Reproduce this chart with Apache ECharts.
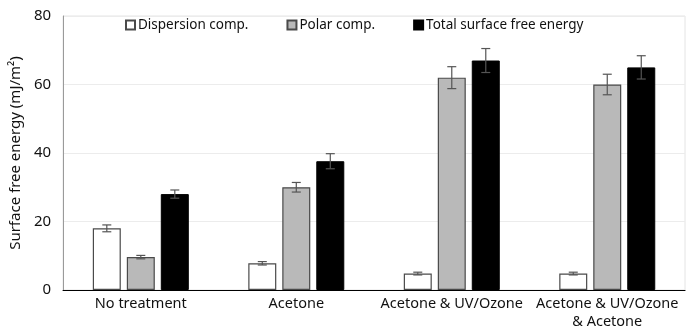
<!DOCTYPE html>
<html><head><meta charset="utf-8">
<script src="https://cdn.jsdelivr.net/npm/echarts@6/dist/echarts.min.js"></script>
<style>html,body{margin:0;padding:0;background:#fff}#c{width:688px;height:335px}</style>
</head><body><div id="c"></div>
<script>
const categories = ['No treatment', 'Acetone', 'Acetone & UV/Ozone', 'Acetone & UV/Ozone\n& Acetone'];
const seriesNames = ['Dispersion comp.', 'Polar comp.', 'Total surface free energy'];
const dispersion = [18, 7.8, 4.8, 4.8];
const dispersionErr = [1, 0.5, 0.4, 0.4];
const polar = [9.6, 30, 62, 60];
const polarErr = [0.5, 1.4, 3.2, 3];
const total = [28, 37.6, 67, 65];
const totalErr = [1.2, 2.2, 3.5, 3.4];
const yTicks = [0, 20, 40, 60, 80];

const FONT = '"Noto Sans", "Open Sans", sans-serif';
const barW = 28, gapPx = 6;
const styles = [
  {color: '#ffffff', borderColor: '#4a4a4a', borderWidth: 1.2},
  {color: '#b9b9b9', borderColor: '#4a4a4a', borderWidth: 1.2},
  {color: '#000000', borderColor: '#000000', borderWidth: 1}
];
const vals = [dispersion, polar, total];
const errs = [dispersionErr, polarErr, totalErr];

const series = [];
vals.forEach((v, i) => {
  series.push({
    name: seriesNames[i], type: 'bar', data: v, barWidth: barW,
    barGap: (gapPx / barW * 100) + '%', barCategoryGap: '38%',
    itemStyle: styles[i], z: 2
  });
});
vals.forEach((v, i) => {
  const off = (i - 1) * (barW + gapPx);
  series.push({
    type: 'custom', z: 5, silent: true,
    data: v.map((y, k) => [k, y, errs[i][k]]),
    renderItem: function (params, api) {
      const x = api.value(0), y = api.value(1), e = api.value(2);
      const top = api.coord([x, y + e]);
      const bot = api.coord([x, y - e]);
      const cx = top[0] + off;
      const hw = 4.5;
      const st = {stroke: '#555', lineWidth: 1.2};
      return {type: 'group', children: [
        {type: 'line', shape: {x1: cx, y1: top[1], x2: cx, y2: bot[1]}, style: st},
        {type: 'line', shape: {x1: cx - hw, y1: top[1], x2: cx + hw, y2: top[1]}, style: st},
        {type: 'line', shape: {x1: cx - hw, y1: bot[1], x2: cx + hw, y2: bot[1]}, style: st}
      ]};
    }
  });
});

const chart = echarts.init(document.getElementById('c'), null, {renderer: 'canvas'});
chart.setOption({
  animation: false,
  textStyle: {fontFamily: FONT},
  grid: {left: 60, right: 3, top: 16, bottom: 45, show: true, borderColor: '#e4e4e4', borderWidth: 1},
  legend: {
    data: seriesNames, left: 120, top: 13, itemWidth: 9, itemHeight: 9, itemGap: 38,
    icon: 'rect',
    textStyle: {fontFamily: FONT, fontSize: 13.5, color: '#111', padding: [0, 0, 0, -2]}
  },
  xAxis: {
    type: 'category', data: categories,
    axisLine: {lineStyle: {color: '#000', width: 1.2}},
    axisTick: {show: false},
    axisLabel: {fontFamily: FONT, fontSize: 14.5, color: '#111', margin: 5, lineHeight: 18, interval: 0}
  },
  yAxis: {
    type: 'value', min: yTicks[0], max: yTicks[yTicks.length - 1], interval: 20,
    name: 'Surface free energy (mJ/m²)', nameLocation: 'middle', nameGap: 36,
    nameTextStyle: {fontFamily: FONT, fontSize: 15, color: '#111'},
    axisLine: {show: true, lineStyle: {color: '#9a9a9a', width: 1}},
    axisTick: {show: false},
    axisLabel: {fontFamily: FONT, fontSize: 15, color: '#111', margin: 12},
    splitLine: {show: true, lineStyle: {color: '#ececec', width: 1}}
  },
  series: series
});
</script></body></html>
